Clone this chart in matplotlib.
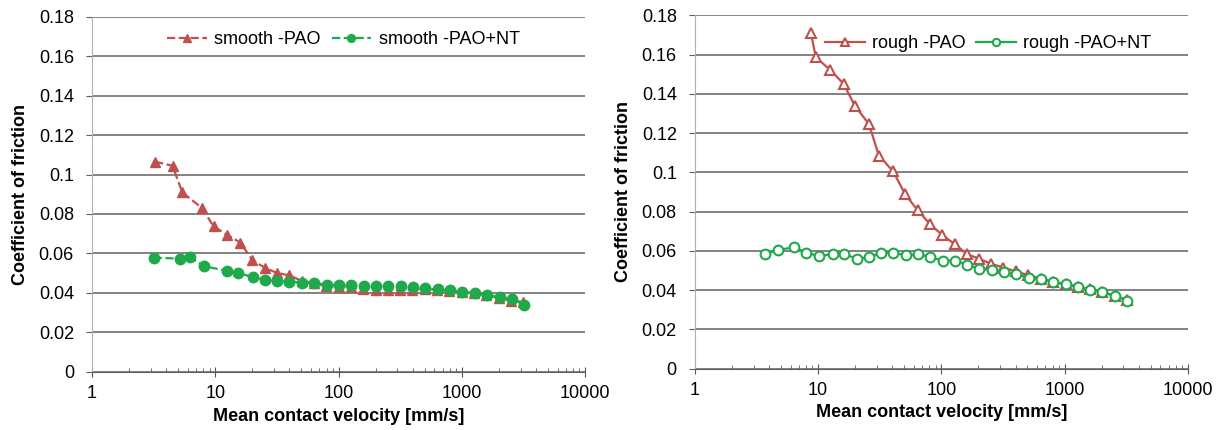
import numpy as np
import matplotlib
matplotlib.use("Agg")
import matplotlib.pyplot as plt
from matplotlib.ticker import LogLocator, FixedLocator, NullFormatter

plt.rcParams['font.family'] = ['Liberation Sans', 'DejaVu Sans']

# smooth surface - PAO
smooth_pao_v = [3.25, 4.5, 5.4, 7.8, 9.7, 12.4, 16.0, 20.0, 25.4, 31.5, 40.0, 50.1, 63.1, 79.4,
                100, 126, 158, 200, 251, 316, 398, 501, 631, 794, 1000, 1259, 1585, 1995, 2512, 3162]
smooth_pao_mu = [0.1065, 0.1044, 0.091, 0.083, 0.0737, 0.0695, 0.0655, 0.0566, 0.0527, 0.0502, 0.0489,
                 0.0462, 0.0448, 0.0436, 0.0432, 0.0428, 0.042, 0.0417, 0.0415, 0.0415, 0.0417, 0.042,
                 0.0415, 0.041, 0.0405, 0.0398, 0.039, 0.0375, 0.036, 0.0355]

# smooth surface - PAO+NT
smooth_nt_v = [3.16, 5.17, 6.27, 8.04, 12.5, 15.3, 20.2, 25.2, 31.6, 40, 50.3, 63.8, 80, 100, 126,
               160, 200, 254, 320, 400, 506, 640, 810, 1010, 1280, 1600, 2030, 2570, 3220]
smooth_nt_mu = [0.0579, 0.0574, 0.0581, 0.0536, 0.0512, 0.0502, 0.048, 0.0468, 0.046, 0.0458, 0.0453,
                0.045, 0.0442, 0.0438, 0.0438, 0.0437, 0.0437, 0.0433, 0.0433, 0.0428, 0.0423, 0.0418,
                0.0413, 0.0406, 0.04, 0.039, 0.0378, 0.0368, 0.0341]

# rough surface - PAO
rough_pao_v = [8.74, 9.6, 12.6, 16.1, 19.9, 25.9, 31.1, 40.7, 50.9, 64.3, 81, 102, 128, 161, 202,
               255, 319, 403, 508, 640, 807, 1018, 1285, 1607, 2028, 2560, 3228]
rough_pao_mu = [0.1711, 0.1587, 0.1521, 0.1452, 0.1339, 0.1246, 0.1086, 0.1005, 0.0888, 0.0807,
                0.0736, 0.068, 0.0635, 0.0584, 0.0560, 0.0533, 0.0515, 0.0495, 0.0476, 0.0458,
                0.0443, 0.043, 0.0418, 0.0403, 0.0389, 0.0372, 0.0347]

# rough surface - PAO+NT
rough_nt_v = [3.74, 4.76, 6.4, 8.0, 10.1, 13.1, 16.3, 20.7, 25.9, 32.3, 40.7, 51.3, 64.7, 81.6, 103,
              129, 163, 204, 257, 324, 405, 512, 640, 807, 1018, 1285, 1607, 2028, 2560, 3228]
rough_nt_mu = [0.0584, 0.0605, 0.0618, 0.0591, 0.0574, 0.0583, 0.0583, 0.056, 0.0567, 0.0591, 0.0589,
               0.0578, 0.0583, 0.0569, 0.055, 0.055, 0.053, 0.0508, 0.0503, 0.0491, 0.048, 0.0464,
               0.0456, 0.0441, 0.0429, 0.0417, 0.0402, 0.0388, 0.0371, 0.0346]

red = '#C0504D'
green = '#1EAA4B'
fs = 13

fig = plt.figure(figsize=(12.19, 4.30), dpi=100)
ax1 = fig.add_axes([0.0755, 0.135, 0.4044, 0.8265])
ax2 = fig.add_axes([0.570, 0.143, 0.4044, 0.821])


def style(ax):
    ax.set_xscale('log')
    ax.set_xlim(1, 10000)
    ax.set_ylim(0, 0.18)
    ax.set_yticks(np.arange(0, 0.181, 0.02))
    ax.set_yticklabels(['0', '0.02', '0.04', '0.06', '0.08', '0.1', '0.12', '0.14', '0.16', '0.18'])
    ax.xaxis.set_major_locator(FixedLocator([1, 10, 100, 1000, 10000]))
    ax.set_xticklabels(['1', '10', '100', '1000', '10000'])
    ax.xaxis.set_minor_locator(LogLocator(base=10, subs=np.arange(2, 10)))
    ax.xaxis.set_minor_formatter(NullFormatter())
    ax.grid(axis='y', color='#606060', lw=1.1)
    ax.set_axisbelow(True)
    for s in ['top', 'right']:
        ax.spines[s].set_visible(False)
    ax.spines['left'].set_color('#b0b0b0')
    ax.spines['bottom'].set_color('#606060')
    ax.tick_params(axis='y', length=4, color='#606060', labelsize=fs, pad=9)
    ax.tick_params(axis='x', which='major', direction='inout', length=7, color='#555555',
                   labelsize=fs, pad=6)
    ax.tick_params(axis='x', which='minor', direction='in', length=3, color='#555555')
    ax.set_xlabel('Mean contact velocity [mm/s]', fontsize=fs, fontweight='bold', labelpad=4)
    ax.set_ylabel('Coefficient of friction', fontsize=fs, fontweight='bold', labelpad=7)


style(ax1)
style(ax2)

ax1.plot(smooth_pao_v, smooth_pao_mu, ls='--', color=red, lw=1.6, marker='^', ms=7,
         mfc=red, mec=red, label='smooth -PAO')
ax1.plot(smooth_nt_v, smooth_nt_mu, ls='--', color=green, lw=1.6, marker='o', ms=7.5,
         mfc=green, mec=green, label='smooth -PAO+NT')
ax1.legend(loc='upper center', ncol=2, frameon=False, fontsize=fs, handlelength=2.2,
           handletextpad=0.4, columnspacing=0.6, markerscale=0.75, bbox_to_anchor=(0.51, 1.005))

ax2.plot(rough_pao_v, rough_pao_mu, ls='-', color=red, lw=1.6, marker='^', ms=7,
         mfc='white', mec=red, mew=1.5, label='rough -PAO')
ax2.plot(rough_nt_v, rough_nt_mu, ls='-', color=green, lw=1.6, marker='o', ms=7,
         mfc='white', mec=green, mew=1.5, label='rough -PAO+NT')
ax2.legend(loc='upper center', ncol=2, frameon=False, fontsize=fs, handlelength=2.2,
           handletextpad=0.4, columnspacing=0.6, markerscale=0.75, bbox_to_anchor=(0.595, 0.99))

fig.savefig('out.png', dpi=100)
